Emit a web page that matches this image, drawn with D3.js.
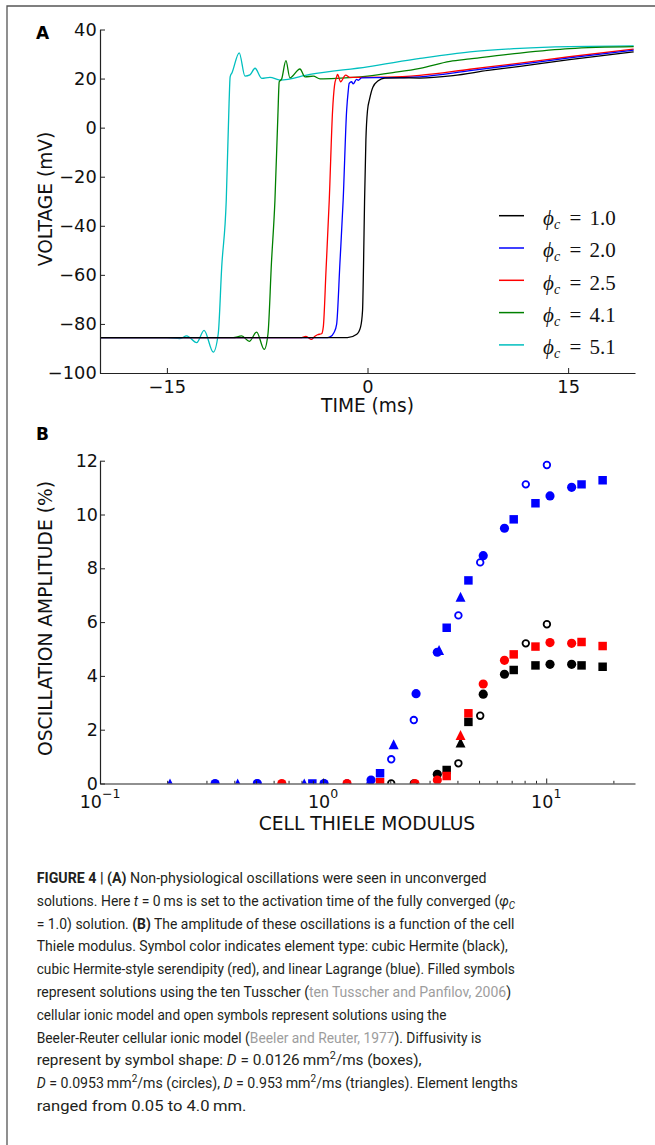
<!DOCTYPE html>
<html>
<head>
<meta charset="utf-8">
<script src="https://cdn.jsdelivr.net/npm/d3@7"></script>
<style>
body{margin:0;background:#fff;}
svg{display:block;}
</style>
</head>
<body>
<div id="chart"></div>
<script>

// panel A: action potentials, [time (ms), voltage (mV)]
const phi10 = [[-20,-85.6],[-1.5,-85.6],[-0.8,-84.2],[-0.52,-81.3],[-0.37,-74.5],[-0.3,-57],[-0.22,-30],[-0.12,-5],[0.0,7],[0.15,11.5],[0.4,16.5],[0.8,19.1],[1.3,20.2],[2.4,20.3],[3.9,20.2],[6.4,21.2],[9.0,23.3],[11.4,25.0],[15.1,27.7],[19.9,30.9]];
const phi20 = [[-20,-85.6],[-3.0,-85.6],[-2.8,-85.3],[-2.5,-83.5],[-2.31,-80.2],[-2.06,-55],[-1.82,-29.6],[-1.56,7],[-1.44,15],[-1.37,18],[-1.19,18.7],[-1.07,17.8],[-0.82,19.7],[-0.69,19.3],[-0.44,20.3],[0.6,20.4],[2.4,20.4],[3.9,20.7],[7.66,23.2],[11.4,25.8],[15.1,28.4],[19.9,31.6]];
const phi25 = [[-20,-85.6],[-5.0,-85.6],[-4.6,-85.1],[-4.18,-86.3],[-3.93,-85.0],[-3.74,-84.4],[-3.43,-84],[-3.3,-81],[-3.1,-58],[-2.86,-29.6],[-2.61,7],[-2.47,17],[-2.31,20.7],[-2.24,21.7],[-2.01,18.7],[-1.64,21.4],[-1.31,20.5],[-0.5,20.5],[1.5,20.6],[3.9,21.3],[7.66,23.8],[11.4,26.3],[15.1,28.9],[19.9,32.0]];
const phi41 = [[-20,-85.6],[-10.04,-85.6],[-9.41,-84.9],[-8.84,-87.1],[-8.29,-83.3],[-7.72,-90.4],[-7.44,-84],[-7.18,-55],[-6.92,-29.6],[-6.7,5],[-6.6,18.7],[-6.42,19.8],[-6.10,27.3],[-5.80,20.3],[-5.05,23.9],[-4.67,20.7],[-4.05,21],[-3.55,19.9],[-2.31,20.1],[0,21.0],[2,22.5],[3.93,24.2],[6.17,27.0],[7.66,28.0],[11.4,30.4],[15.1,32.2],[19.9,33.0]];
const phi51 = [[-20,-85.6],[-14.99,-85.6],[-14.02,-86.0],[-13.52,-84.9],[-12.77,-87.6],[-12.22,-82.6],[-11.53,-91.5],[-11.16,-84],[-10.90,-56.8],[-10.56,-29.6],[-10.35,10],[-10.27,20.7],[-10.12,22.5],[-9.59,30.5],[-9.16,21],[-8.79,21.5],[-8.41,24.2],[-7.91,20.1],[-7.29,20.5],[-6.54,19.4],[-4.3,21.7],[0,24.8],[3.93,28.2],[7.66,30.9],[11.4,32.3],[15.1,33.0],[19.9,33.3]];

const phiLabels = ["1.0","2.0","2.5","4.1","5.1"];
const voltTicks = [-100,-80,-60,-40,-20,0,20,40];
const timeTicks = [-15,0,15];

// panel B: [cell Thiele modulus, oscillation amplitude (%)]
const blueSq   = [[0.895,0],[1.80,0.38],[3.58,5.79],[4.48,7.55],[7.15,9.82],[8.95,10.42],[14.4,11.12],[17.9,11.27]];
const blueCirc = [[0.328,0],[0.507,0],[1.01,0],[1.64,0.13],[2.61,3.34],[3.25,4.88],[5.22,8.47],[6.5,9.49],[10.4,10.69],[13.0,11.01]];
const blueTri  = [[0.206,0],[0.414,0],[0.823,0],[1.62,0.1],[2.07,1.46],[3.31,4.96],[4.13,6.94]];
const blueOpen = [[0.507,0],[1.01,0],[1.28,0],[2.02,0.9],[2.55,2.36],[4.04,6.25],[5.06,8.22],[8.1,11.12],[10.07,11.84]];

const blackSq   = [[3.58,0.5],[4.48,2.29],[7.15,4.22],[8.95,4.39],[14.4,4.39],[17.9,4.34]];
const blackCirc = [[3.25,0.34],[5.22,3.32],[6.5,4.06],[10.4,4.43],[13.0,4.43]];
const blackTri  = [[4.13,1.52]];
const blackOpen = [[2.02,0],[2.55,0],[4.04,0.75],[5.06,2.52],[8.1,5.21],[10.07,5.92]];

const redSq   = [[1.80,0.05],[3.58,0.28],[4.48,2.61],[7.15,4.80],[8.95,5.09],[14.4,5.26],[17.9,5.11]];
const redCirc = [[0.653,0],[1.28,0],[2.58,0],[3.25,0.13],[5.22,3.70],[6.5,4.58],[10.4,5.24],[13.0,5.21]];
const redTri  = [[4.13,1.80]];

const ampTicks = [0,2,4,6,8,10,12];
const thieleMajor = [0.1,1,10];

const W = 655, H = 1145;
const sans = "'DejaVu Sans', Verdana, sans-serif";

const svg = d3.select("#chart").append("svg")
	.attr("width", W)
	.attr("height", H);

// frame of the figure
svg.append("path")
	.attr("d", "M7,1145V6H655")
	.attr("fill", "none")
	.attr("stroke", "#555")
	.attr("stroke-width", 1.3);

// ---------- panel A ----------
const xA = d3.scaleLinear().domain([-20,20]).range([100,635]);
const yA = d3.scaleLinear().domain([-100,40]).range([373,29.5]);

const lineColors = ["#000000","#0000ff","#ff0000","#008000","#00bfbf"];
const traces = [phi10, phi20, phi25, phi41, phi51];

const line = d3.line()
	.x(d => xA(d[0]))
	.y(d => yA(d[1]))
	.curve(d3.curveMonotoneX);

svg.append("g")
	.selectAll("path")
	.data(traces.map((pts,i) => ({pts, i})).reverse())
	.enter()
	.append("path")
	.attr("d", d => line(d.pts))
	.attr("fill", "none")
	.attr("stroke", d => lineColors[d.i])
	.attr("stroke-width", 1.3);

const axAy = svg.append("g")
	.attr("transform", "translate(100,0)")
	.call(d3.axisLeft(yA).tickValues(voltTicks).tickSizeInner(-5).tickSizeOuter(0).tickPadding(3.3));

const axAx = svg.append("g")
	.attr("transform", "translate(0,373)")
	.call(d3.axisBottom(xA).tickValues(timeTicks).tickSizeInner(-5).tickSizeOuter(0).tickPadding(7.4));

[axAy, axAx].forEach(g => {
	g.attr("font-family", sans).attr("font-size", 17.8).attr("color", "#222");
	g.select(".domain").attr("stroke-width", 1.2);
	g.selectAll("text").attr("fill", "#111");
});

svg.append("text")
	.attr("transform", "translate(51.5,199) rotate(-90)")
	.attr("text-anchor", "middle")
	.attr("font-family", sans)
	.attr("font-size", 18.6)
	.attr("fill", "#111")
	.text("VOLTAGE (mV)");

svg.append("text")
	.attr("x", xA(0))
	.attr("y", 412)
	.attr("text-anchor", "middle")
	.attr("font-family", sans)
	.attr("font-size", 18.6)
	.attr("fill", "#111")
	.text("TIME (ms)");

svg.append("text")
	.attr("x", 36)
	.attr("y", 39)
	.attr("font-family", sans)
	.attr("font-size", 17)
	.attr("font-weight", "bold")
	.text("A");

// legend
const legend = svg.append("g")
	.selectAll("g")
	.data(phiLabels)
	.enter()
	.append("g")
	.attr("transform", (d,i) => `translate(0,${215.7 + i*32.3})`);

legend.append("line")
	.attr("x1", 499).attr("x2", 524)
	.attr("stroke", (d,i) => lineColors[i])
	.attr("stroke-width", 1.5);

const legText = legend.append("text")
	.attr("y", 9.3)
	.attr("font-family", "'Liberation Serif', 'DejaVu Serif', serif")
	.attr("font-size", 21)
	.attr("fill", "#111");
legText.append("tspan").attr("x", 543).attr("font-style", "italic").text("\u03d5");
legText.append("tspan").attr("dy", 4).attr("font-size", 14).attr("font-style", "italic").text("c");
legText.append("tspan").attr("x", 569.5).attr("dy", -4).text("=");
legText.append("tspan").attr("x", 589.5).text(d => d);

// ---------- panel B ----------
const xB = d3.scaleLog().domain([0.1,25]).range([100,635]);
const yB = d3.scaleLinear().domain([0,12]).range([783.5,460.7]);

svg.append("clipPath")
	.attr("id", "clipB")
	.append("rect")
	.attr("x", 100).attr("y", 455)
	.attr("width", 535).attr("height", 328.5);

const tri = {
	draw(ctx, size) {
		const r = Math.sqrt(size) / 2;
		ctx.moveTo(0, -r);
		ctx.lineTo(r, r);
		ctx.lineTo(-r, r);
		ctx.closePath();
	}
};

const markerSeries = [
	{pts: blueSq, color: "#0000ff", type: d3.symbolSquare, size: 72},
	{pts: blueCirc, color: "#0000ff", type: d3.symbolCircle, size: 66},
	{pts: blueTri, color: "#0000ff", type: tri, size: 100},
	{pts: blueOpen, color: "#0000ff", type: d3.symbolCircle, size: 34, open: true},
	{pts: blackSq, color: "#000000", type: d3.symbolSquare, size: 72},
	{pts: blackCirc, color: "#000000", type: d3.symbolCircle, size: 66},
	{pts: blackTri, color: "#000000", type: tri, size: 100},
	{pts: blackOpen, color: "#000000", type: d3.symbolCircle, size: 34, open: true},
	{pts: redSq, color: "#ff0000", type: d3.symbolSquare, size: 72},
	{pts: redCirc, color: "#ff0000", type: d3.symbolCircle, size: 66},
	{pts: redTri, color: "#ff0000", type: tri, size: 100}
];

const marks = svg.append("g").attr("clip-path", "url(#clipB)");

markerSeries.forEach(s => {
	marks.append("g")
		.selectAll("path")
		.data(s.pts)
		.enter()
		.append("path")
		.attr("transform", d => `translate(${xB(d[0])},${yB(d[1])})`)
		.attr("d", d3.symbol().type(s.type).size(s.size))
		.attr("fill", s.open ? "none" : s.color)
		.attr("stroke", s.open ? s.color : "none")
		.attr("stroke-width", 1.8);
});

const isMajor = v => Math.abs(Math.log10(v) - Math.round(Math.log10(v))) < 1e-6;
const minorTicks = xB.ticks().filter(v => !isMajor(v));

const axBminor = svg.append("g")
	.attr("transform", "translate(0,783.5)")
	.call(d3.axisBottom(xB).tickValues(minorTicks).tickSizeInner(-2.7).tickSizeOuter(0).tickFormat(""));
axBminor.select(".domain").remove();

const axBx = svg.append("g")
	.attr("transform", "translate(0,783.5)")
	.call(d3.axisBottom(xB).tickValues(thieleMajor).tickSizeInner(-5).tickSizeOuter(0).tickFormat(""));

const axBy = svg.append("g")
	.attr("transform", "translate(100,0)")
	.call(d3.axisLeft(yB).tickValues(ampTicks).tickSizeInner(-5).tickSizeOuter(0).tickPadding(2));

[axBminor, axBx, axBy].forEach(g => {
	g.attr("font-family", sans).attr("font-size", 17.5).attr("color", "#222");
	g.select(".domain").attr("stroke-width", 1.2);
	g.selectAll("text").attr("fill", "#111");
});

const powLab = axBx.selectAll(".pow")
	.data(thieleMajor)
	.enter()
	.append("text")
	.attr("class", "pow")
	.attr("x", d => xB(d))
	.attr("y", 24.5)
	.attr("text-anchor", "middle")
	.attr("fill", "#111");
powLab.append("tspan").text("10");
powLab.append("tspan")
	.attr("dy", -10.5)
	.attr("font-size", 12.5)
	.text(d => d3.format("d")(Math.round(Math.log10(d))));

svg.append("text")
	.attr("transform", "translate(51.5,618.5) rotate(-90)")
	.attr("text-anchor", "middle")
	.attr("font-family", sans)
	.attr("font-size", 18.7)
	.attr("fill", "#111")
	.text("OSCILLATION AMPLITUDE (%)");

svg.append("text")
	.attr("x", 367)
	.attr("y", 830)
	.attr("text-anchor", "middle")
	.attr("font-family", sans)
	.attr("font-size", 18.7)
	.attr("fill", "#111")
	.text("CELL THIELE MODULUS");

svg.append("text")
	.attr("x", 36)
	.attr("y", 440)
	.attr("font-family", sans)
	.attr("font-size", 17)
	.attr("font-weight", "bold")
	.text("B");

// ---------- caption ----------
// flags: B bold, I italic, G grey reference, ^ superscript, _ subscript
const captionLines = [
	[["FIGURE 4 | (A)","B"],[" Non-physiological oscillations were seen in unconverged",""]],
	[["solutions. Here ",""],["t","I"],[" = 0\u2009ms is set to the activation time of the fully converged (",""],["\u03c6","I"],["C","I_"]],
	[["= 1.0) solution. ",""],["(B)","B"],[" The amplitude of these oscillations is a function of the cell",""]],
	[["Thiele modulus. Symbol color indicates element type: cubic Hermite (black),",""]],
	[["cubic Hermite-style serendipity (red), and linear Lagrange (blue). Filled symbols",""]],
	[["represent solutions using the ten Tusscher (",""],["ten Tusscher and Panfilov, 2006","G"],[")",""]],
	[["cellular ionic model and open symbols represent solutions using the",""]],
	[["Beeler-Reuter cellular ionic model (",""],["Beeler and Reuter, 1977","G"],["). Diffusivity is",""]],
	[["represent by symbol shape: ",""],["D","I"],[" = 0.0126\u2009mm",""],["2","^"],["/ms (boxes),",""]],
	[["D","I"],[" = 0.0953\u2009mm",""],["2","^"],["/ms (circles), ",""],["D","I"],[" = 0.953\u2009mm",""],["2","^"],["/ms (triangles). Element lengths",""]],
	[["ranged from 0.05 to 4.0\u2009mm.",""]]
];
const captionWidths = [450, 478.3, 478.3, 471.6, 478.3, 475, 410, 445, 385, 481.6, 210];

captionLines.forEach((segs, i) => {
	const t = svg.append("text")
		.attr("font-family", "'Liberation Sans Narrow', Roboto, 'Liberation Sans', sans-serif")
		.attr("font-size", 15.5)
		.attr("fill", "#231f20");
	let back = 0;
	segs.forEach(([s, f]) => {
		const ts = t.append("tspan").text(s);
		if (f.includes("B")) ts.attr("font-weight", "bold");
		if (f.includes("I")) ts.attr("font-style", "italic");
		if (f.includes("G")) ts.attr("fill", "#9d9d9d");
		if (f.includes("^")) { ts.attr("dy", -6).attr("font-size", 11); back = 6; }
		else if (f.includes("_")) { ts.attr("dy", 3.5).attr("font-size", 11); back = -3.5; }
		else if (back) { ts.attr("dy", back); back = 0; }
	});
	const w = t.node().getComputedTextLength();
	t.attr("transform", `translate(36.7,${883 + i*22.8}) scale(${captionWidths[i]/w},1)`);
});

</script>
</body>
</html>
